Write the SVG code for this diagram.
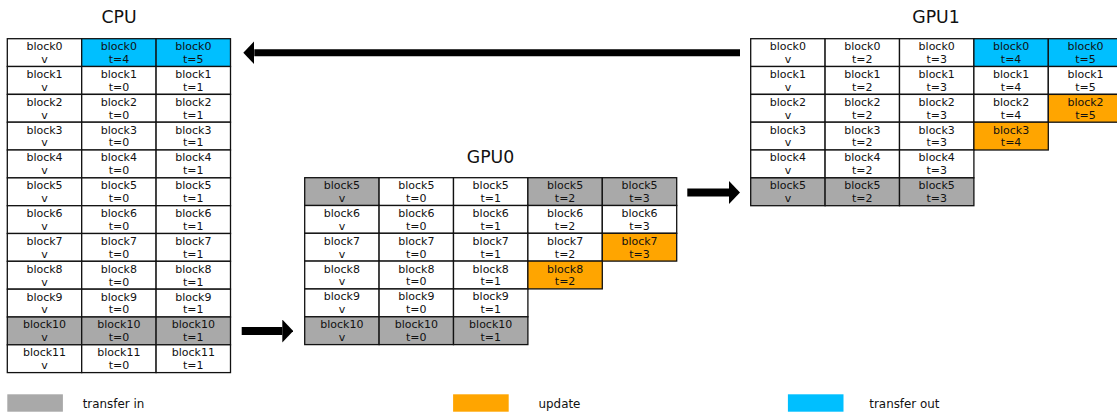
<svg xmlns="http://www.w3.org/2000/svg" width="1117" height="412" viewBox="0 0 1117 412">
<style>
text{font-family:"DejaVu Sans","Liberation Sans",sans-serif;fill:#111}
.c{fill:#fff;stroke:#111;stroke-width:1.3}
.g{fill:#a9a9a9;stroke:#111;stroke-width:1.3}
.o{fill:#ffa500;stroke:#111;stroke-width:1.3}
.b{fill:#00bfff;stroke:#111;stroke-width:1.3}
.t{font-size:11px;text-anchor:middle}
.h{font-size:17.3px;text-anchor:middle}
.l{font-size:11.9px}
.a{stroke:#000;fill:none}
</style>
<defs>
<marker id="ah" markerUnits="userSpaceOnUse" markerWidth="11" markerHeight="23" refX="0" refY="11.5" orient="auto" viewBox="0 0 11 23">
<path d="M0,0 L11,11.5 L0,23 z" fill="#000"/>
</marker>
</defs>

<g id="cpu">
<text class="h" x="119" y="22.7">CPU</text>
<rect class="c" x="7.3" y="38.7" width="74.4" height="27.8"/><text class="t" x="44.5" y="50.1">block0<tspan x="44.5" dy="12.8">v</tspan></text>
<rect class="b" x="81.7" y="38.7" width="74.4" height="27.8"/><text class="t" x="118.9" y="50.1">block0<tspan x="118.9" dy="12.8">t=4</tspan></text>
<rect class="b" x="156.1" y="38.7" width="74.4" height="27.8"/><text class="t" x="193.3" y="50.1">block0<tspan x="193.3" dy="12.8">t=5</tspan></text>

<rect class="c" x="7.3" y="66.5" width="74.4" height="27.8"/><text class="t" x="44.5" y="77.9">block1<tspan x="44.5" dy="12.8">v</tspan></text>
<rect class="c" x="81.7" y="66.5" width="74.4" height="27.8"/><text class="t" x="118.9" y="77.9">block1<tspan x="118.9" dy="12.8">t=0</tspan></text>
<rect class="c" x="156.1" y="66.5" width="74.4" height="27.8"/><text class="t" x="193.3" y="77.9">block1<tspan x="193.3" dy="12.8">t=1</tspan></text>

<rect class="c" x="7.3" y="94.4" width="74.4" height="27.8"/><text class="t" x="44.5" y="105.8">block2<tspan x="44.5" dy="12.8">v</tspan></text>
<rect class="c" x="81.7" y="94.4" width="74.4" height="27.8"/><text class="t" x="118.9" y="105.8">block2<tspan x="118.9" dy="12.8">t=0</tspan></text>
<rect class="c" x="156.1" y="94.4" width="74.4" height="27.8"/><text class="t" x="193.3" y="105.8">block2<tspan x="193.3" dy="12.8">t=1</tspan></text>

<rect class="c" x="7.3" y="122.2" width="74.4" height="27.8"/><text class="t" x="44.5" y="133.6">block3<tspan x="44.5" dy="12.8">v</tspan></text>
<rect class="c" x="81.7" y="122.2" width="74.4" height="27.8"/><text class="t" x="118.9" y="133.6">block3<tspan x="118.9" dy="12.8">t=0</tspan></text>
<rect class="c" x="156.1" y="122.2" width="74.4" height="27.8"/><text class="t" x="193.3" y="133.6">block3<tspan x="193.3" dy="12.8">t=1</tspan></text>

<rect class="c" x="7.3" y="150.0" width="74.4" height="27.8"/><text class="t" x="44.5" y="161.4">block4<tspan x="44.5" dy="12.8">v</tspan></text>
<rect class="c" x="81.7" y="150.0" width="74.4" height="27.8"/><text class="t" x="118.9" y="161.4">block4<tspan x="118.9" dy="12.8">t=0</tspan></text>
<rect class="c" x="156.1" y="150.0" width="74.4" height="27.8"/><text class="t" x="193.3" y="161.4">block4<tspan x="193.3" dy="12.8">t=1</tspan></text>

<rect class="c" x="7.3" y="177.9" width="74.4" height="27.8"/><text class="t" x="44.5" y="189.3">block5<tspan x="44.5" dy="12.8">v</tspan></text>
<rect class="c" x="81.7" y="177.9" width="74.4" height="27.8"/><text class="t" x="118.9" y="189.3">block5<tspan x="118.9" dy="12.8">t=0</tspan></text>
<rect class="c" x="156.1" y="177.9" width="74.4" height="27.8"/><text class="t" x="193.3" y="189.3">block5<tspan x="193.3" dy="12.8">t=1</tspan></text>

<rect class="c" x="7.3" y="205.7" width="74.4" height="27.8"/><text class="t" x="44.5" y="217.1">block6<tspan x="44.5" dy="12.8">v</tspan></text>
<rect class="c" x="81.7" y="205.7" width="74.4" height="27.8"/><text class="t" x="118.9" y="217.1">block6<tspan x="118.9" dy="12.8">t=0</tspan></text>
<rect class="c" x="156.1" y="205.7" width="74.4" height="27.8"/><text class="t" x="193.3" y="217.1">block6<tspan x="193.3" dy="12.8">t=1</tspan></text>

<rect class="c" x="7.3" y="233.5" width="74.4" height="27.8"/><text class="t" x="44.5" y="244.9">block7<tspan x="44.5" dy="12.8">v</tspan></text>
<rect class="c" x="81.7" y="233.5" width="74.4" height="27.8"/><text class="t" x="118.9" y="244.9">block7<tspan x="118.9" dy="12.8">t=0</tspan></text>
<rect class="c" x="156.1" y="233.5" width="74.4" height="27.8"/><text class="t" x="193.3" y="244.9">block7<tspan x="193.3" dy="12.8">t=1</tspan></text>

<rect class="c" x="7.3" y="261.3" width="74.4" height="27.8"/><text class="t" x="44.5" y="272.7">block8<tspan x="44.5" dy="12.8">v</tspan></text>
<rect class="c" x="81.7" y="261.3" width="74.4" height="27.8"/><text class="t" x="118.9" y="272.7">block8<tspan x="118.9" dy="12.8">t=0</tspan></text>
<rect class="c" x="156.1" y="261.3" width="74.4" height="27.8"/><text class="t" x="193.3" y="272.7">block8<tspan x="193.3" dy="12.8">t=1</tspan></text>

<rect class="c" x="7.3" y="289.2" width="74.4" height="27.8"/><text class="t" x="44.5" y="300.6">block9<tspan x="44.5" dy="12.8">v</tspan></text>
<rect class="c" x="81.7" y="289.2" width="74.4" height="27.8"/><text class="t" x="118.9" y="300.6">block9<tspan x="118.9" dy="12.8">t=0</tspan></text>
<rect class="c" x="156.1" y="289.2" width="74.4" height="27.8"/><text class="t" x="193.3" y="300.6">block9<tspan x="193.3" dy="12.8">t=1</tspan></text>

<rect class="g" x="7.3" y="317.0" width="74.4" height="27.8"/><text class="t" x="44.5" y="328.4">block10<tspan x="44.5" dy="12.8">v</tspan></text>
<rect class="g" x="81.7" y="317.0" width="74.4" height="27.8"/><text class="t" x="118.9" y="328.4">block10<tspan x="118.9" dy="12.8">t=0</tspan></text>
<rect class="g" x="156.1" y="317.0" width="74.4" height="27.8"/><text class="t" x="193.3" y="328.4">block10<tspan x="193.3" dy="12.8">t=1</tspan></text>

<rect class="c" x="7.3" y="344.8" width="74.4" height="27.8"/><text class="t" x="44.5" y="356.2">block11<tspan x="44.5" dy="12.8">v</tspan></text>
<rect class="c" x="81.7" y="344.8" width="74.4" height="27.8"/><text class="t" x="118.9" y="356.2">block11<tspan x="118.9" dy="12.8">t=0</tspan></text>
<rect class="c" x="156.1" y="344.8" width="74.4" height="27.8"/><text class="t" x="193.3" y="356.2">block11<tspan x="193.3" dy="12.8">t=1</tspan></text>
</g>

<g id="gpu0">
<text class="h" x="490.5" y="162.7">GPU0</text>
<rect class="g" x="304.7" y="177.7" width="74.4" height="27.8"/><text class="t" x="341.9" y="189.1">block5<tspan x="341.9" dy="12.8">v</tspan></text>
<rect class="c" x="379.1" y="177.7" width="74.4" height="27.8"/><text class="t" x="416.3" y="189.1">block5<tspan x="416.3" dy="12.8">t=0</tspan></text>
<rect class="c" x="453.5" y="177.7" width="74.4" height="27.8"/><text class="t" x="490.7" y="189.1">block5<tspan x="490.7" dy="12.8">t=1</tspan></text>
<rect class="g" x="527.9" y="177.7" width="74.4" height="27.8"/><text class="t" x="565.1" y="189.1">block5<tspan x="565.1" dy="12.8">t=2</tspan></text>
<rect class="g" x="602.3" y="177.7" width="74.4" height="27.8"/><text class="t" x="639.5" y="189.1">block5<tspan x="639.5" dy="12.8">t=3</tspan></text>

<rect class="c" x="304.7" y="205.5" width="74.4" height="27.8"/><text class="t" x="341.9" y="216.9">block6<tspan x="341.9" dy="12.8">v</tspan></text>
<rect class="c" x="379.1" y="205.5" width="74.4" height="27.8"/><text class="t" x="416.3" y="216.9">block6<tspan x="416.3" dy="12.8">t=0</tspan></text>
<rect class="c" x="453.5" y="205.5" width="74.4" height="27.8"/><text class="t" x="490.7" y="216.9">block6<tspan x="490.7" dy="12.8">t=1</tspan></text>
<rect class="c" x="527.9" y="205.5" width="74.4" height="27.8"/><text class="t" x="565.1" y="216.9">block6<tspan x="565.1" dy="12.8">t=2</tspan></text>
<rect class="c" x="602.3" y="205.5" width="74.4" height="27.8"/><text class="t" x="639.5" y="216.9">block6<tspan x="639.5" dy="12.8">t=3</tspan></text>

<rect class="c" x="304.7" y="233.3" width="74.4" height="27.8"/><text class="t" x="341.9" y="244.7">block7<tspan x="341.9" dy="12.8">v</tspan></text>
<rect class="c" x="379.1" y="233.3" width="74.4" height="27.8"/><text class="t" x="416.3" y="244.7">block7<tspan x="416.3" dy="12.8">t=0</tspan></text>
<rect class="c" x="453.5" y="233.3" width="74.4" height="27.8"/><text class="t" x="490.7" y="244.7">block7<tspan x="490.7" dy="12.8">t=1</tspan></text>
<rect class="c" x="527.9" y="233.3" width="74.4" height="27.8"/><text class="t" x="565.1" y="244.7">block7<tspan x="565.1" dy="12.8">t=2</tspan></text>
<rect class="o" x="602.3" y="233.3" width="74.4" height="27.8"/><text class="t" x="639.5" y="244.7">block7<tspan x="639.5" dy="12.8">t=3</tspan></text>

<rect class="c" x="304.7" y="261.1" width="74.4" height="27.8"/><text class="t" x="341.9" y="272.5">block8<tspan x="341.9" dy="12.8">v</tspan></text>
<rect class="c" x="379.1" y="261.1" width="74.4" height="27.8"/><text class="t" x="416.3" y="272.5">block8<tspan x="416.3" dy="12.8">t=0</tspan></text>
<rect class="c" x="453.5" y="261.1" width="74.4" height="27.8"/><text class="t" x="490.7" y="272.5">block8<tspan x="490.7" dy="12.8">t=1</tspan></text>
<rect class="o" x="527.9" y="261.1" width="74.4" height="27.8"/><text class="t" x="565.1" y="272.5">block8<tspan x="565.1" dy="12.8">t=2</tspan></text>

<rect class="c" x="304.7" y="289.0" width="74.4" height="27.8"/><text class="t" x="341.9" y="300.4">block9<tspan x="341.9" dy="12.8">v</tspan></text>
<rect class="c" x="379.1" y="289.0" width="74.4" height="27.8"/><text class="t" x="416.3" y="300.4">block9<tspan x="416.3" dy="12.8">t=0</tspan></text>
<rect class="c" x="453.5" y="289.0" width="74.4" height="27.8"/><text class="t" x="490.7" y="300.4">block9<tspan x="490.7" dy="12.8">t=1</tspan></text>

<rect class="g" x="304.7" y="316.8" width="74.4" height="27.8"/><text class="t" x="341.9" y="328.2">block10<tspan x="341.9" dy="12.8">v</tspan></text>
<rect class="g" x="379.1" y="316.8" width="74.4" height="27.8"/><text class="t" x="416.3" y="328.2">block10<tspan x="416.3" dy="12.8">t=0</tspan></text>
<rect class="g" x="453.5" y="316.8" width="74.4" height="27.8"/><text class="t" x="490.7" y="328.2">block10<tspan x="490.7" dy="12.8">t=1</tspan></text>
</g>

<g id="gpu1">
<text class="h" x="936" y="22.7">GPU1</text>
<rect class="c" x="750.7" y="38.7" width="74.4" height="27.8"/><text class="t" x="787.9" y="50.1">block0<tspan x="787.9" dy="12.8">v</tspan></text>
<rect class="c" x="825.1" y="38.7" width="74.4" height="27.8"/><text class="t" x="862.3" y="50.1">block0<tspan x="862.3" dy="12.8">t=2</tspan></text>
<rect class="c" x="899.5" y="38.7" width="74.4" height="27.8"/><text class="t" x="936.7" y="50.1">block0<tspan x="936.7" dy="12.8">t=3</tspan></text>
<rect class="b" x="973.9" y="38.7" width="74.4" height="27.8"/><text class="t" x="1011.1" y="50.1">block0<tspan x="1011.1" dy="12.8">t=4</tspan></text>
<rect class="b" x="1048.3" y="38.7" width="74.4" height="27.8"/><text class="t" x="1085.5" y="50.1">block0<tspan x="1085.5" dy="12.8">t=5</tspan></text>

<rect class="c" x="750.7" y="66.5" width="74.4" height="27.8"/><text class="t" x="787.9" y="77.9">block1<tspan x="787.9" dy="12.8">v</tspan></text>
<rect class="c" x="825.1" y="66.5" width="74.4" height="27.8"/><text class="t" x="862.3" y="77.9">block1<tspan x="862.3" dy="12.8">t=2</tspan></text>
<rect class="c" x="899.5" y="66.5" width="74.4" height="27.8"/><text class="t" x="936.7" y="77.9">block1<tspan x="936.7" dy="12.8">t=3</tspan></text>
<rect class="c" x="973.9" y="66.5" width="74.4" height="27.8"/><text class="t" x="1011.1" y="77.9">block1<tspan x="1011.1" dy="12.8">t=4</tspan></text>
<rect class="c" x="1048.3" y="66.5" width="74.4" height="27.8"/><text class="t" x="1085.5" y="77.9">block1<tspan x="1085.5" dy="12.8">t=5</tspan></text>

<rect class="c" x="750.7" y="94.4" width="74.4" height="27.8"/><text class="t" x="787.9" y="105.8">block2<tspan x="787.9" dy="12.8">v</tspan></text>
<rect class="c" x="825.1" y="94.4" width="74.4" height="27.8"/><text class="t" x="862.3" y="105.8">block2<tspan x="862.3" dy="12.8">t=2</tspan></text>
<rect class="c" x="899.5" y="94.4" width="74.4" height="27.8"/><text class="t" x="936.7" y="105.8">block2<tspan x="936.7" dy="12.8">t=3</tspan></text>
<rect class="c" x="973.9" y="94.4" width="74.4" height="27.8"/><text class="t" x="1011.1" y="105.8">block2<tspan x="1011.1" dy="12.8">t=4</tspan></text>
<rect class="o" x="1048.3" y="94.4" width="74.4" height="27.8"/><text class="t" x="1085.5" y="105.8">block2<tspan x="1085.5" dy="12.8">t=5</tspan></text>

<rect class="c" x="750.7" y="122.2" width="74.4" height="27.8"/><text class="t" x="787.9" y="133.6">block3<tspan x="787.9" dy="12.8">v</tspan></text>
<rect class="c" x="825.1" y="122.2" width="74.4" height="27.8"/><text class="t" x="862.3" y="133.6">block3<tspan x="862.3" dy="12.8">t=2</tspan></text>
<rect class="c" x="899.5" y="122.2" width="74.4" height="27.8"/><text class="t" x="936.7" y="133.6">block3<tspan x="936.7" dy="12.8">t=3</tspan></text>
<rect class="o" x="973.9" y="122.2" width="74.4" height="27.8"/><text class="t" x="1011.1" y="133.6">block3<tspan x="1011.1" dy="12.8">t=4</tspan></text>

<rect class="c" x="750.7" y="150.0" width="74.4" height="27.8"/><text class="t" x="787.9" y="161.4">block4<tspan x="787.9" dy="12.8">v</tspan></text>
<rect class="c" x="825.1" y="150.0" width="74.4" height="27.8"/><text class="t" x="862.3" y="161.4">block4<tspan x="862.3" dy="12.8">t=2</tspan></text>
<rect class="c" x="899.5" y="150.0" width="74.4" height="27.8"/><text class="t" x="936.7" y="161.4">block4<tspan x="936.7" dy="12.8">t=3</tspan></text>

<rect class="g" x="750.7" y="177.9" width="74.4" height="27.8"/><text class="t" x="787.9" y="189.3">block5<tspan x="787.9" dy="12.8">v</tspan></text>
<rect class="g" x="825.1" y="177.9" width="74.4" height="27.8"/><text class="t" x="862.3" y="189.3">block5<tspan x="862.3" dy="12.8">t=2</tspan></text>
<rect class="g" x="899.5" y="177.9" width="74.4" height="27.8"/><text class="t" x="936.7" y="189.3">block5<tspan x="936.7" dy="12.8">t=3</tspan></text>
</g>

<g id="connectors">
<line class="a" x1="740" y1="52.7" x2="254.3" y2="52.7" stroke-width="7" marker-end="url(#ah)"/>
<line class="a" x1="241.7" y1="331" x2="282.3" y2="331" stroke-width="8" marker-end="url(#ah)"/>
<line class="a" x1="687.3" y1="192.5" x2="729" y2="192.5" stroke-width="8" marker-end="url(#ah)"/>
</g>

<g id="legend">
<rect x="7.3" y="394.3" width="55.6" height="17.4" fill="#a9a9a9"/>
<text class="l" x="82.7" y="408.3">transfer in</text>
<rect x="453.1" y="394.3" width="55.6" height="17.4" fill="#ffa500"/>
<text class="l" x="538.5" y="408.3">update</text>
<rect x="787.9" y="394.3" width="55.6" height="17.4" fill="#00bfff"/>
<text class="l" x="869.3" y="408.3">transfer out</text>
</g>
</svg>
